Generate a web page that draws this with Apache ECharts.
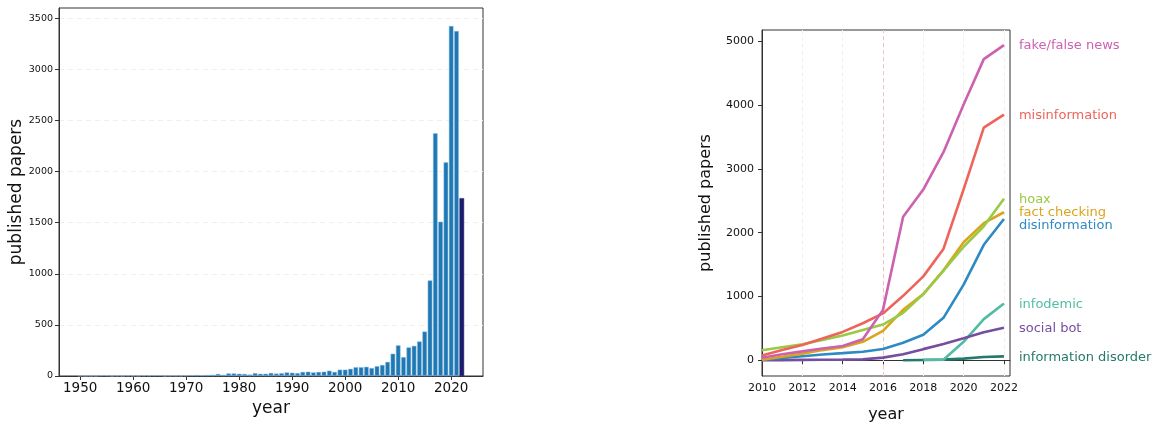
<!DOCTYPE html>
<html>
<head>
<meta charset="utf-8">
<script src="https://cdn.jsdelivr.net/npm/echarts@6/dist/echarts.min.js"></script>
<style>
html,body{margin:0;padding:0;background:#fff;}
#c{width:1159px;height:423px;}
</style>
</head>
<body>
<div id="c"></div>
<script>
// ---- Left chart: published papers per year ----
const barYears = [];
for (let y = 1950; y <= 2022; y++) barYears.push(y);
const barValues = [
  // 1950-1959
  2, 0, 0, 0, 5, 5, 0, 3, 0, 4,
  // 1960-1969
  2, 1, 5, 5, 8, 7, 0, 3, 3, 2,
  // 1970-1979
  5, 8, 10, 8, 10, 12, 20, 12, 25, 25,
  // 1980-1989
  22, 20, 14, 28, 22, 22, 30, 24, 28, 35,
  // 1990-1999
  32, 28, 40, 42, 35, 40, 42, 52, 40, 62,
  // 2000-2009
  62, 70, 86, 86, 90, 78, 96, 108, 138, 218,
  // 2010-2019
  300, 185, 280, 295, 338, 435, 935, 2375, 1510, 2090,
  // 2020-2022
  3425, 3375, 1740
];
const barXTicks = [1950, 1960, 1970, 1980, 1990, 2000, 2010, 2020];
const barYTicks = [0, 500, 1000, 1500, 2000, 2500, 3000, 3500];

// ---- Right chart: papers per term ----
const lineYears = [2010, 2011, 2012, 2013, 2014, 2015, 2016, 2017, 2018, 2019, 2020, 2021, 2022];
const fakeNews        = [40, 95, 140, 185, 225, 330, 790, 2250, 2675, 3262, 4010, 4720, 4940];
const misinformation  = [75, 160, 240, 340, 445, 580, 735, 1010, 1315, 1745, 2680, 3645, 3850];
const hoax            = [157, 205, 251, 320, 390, 475, 560, 743, 1037, 1405, 1780, 2100, 2530];
const factChecking    = [10, 55, 105, 160, 205, 290, 460, 790, 1037, 1410, 1850, 2150, 2320];
const disinformation  = [5, 35, 63, 90, 112, 135, 178, 275, 400, 665, 1185, 1810, 2215];
const infodemic       = [null, null, null, null, null, null, null, null, 8, 8, 290, 645, 890];
const socialBot       = [0, 3, 6, 8, 10, 15, 42, 94, 175, 255, 345, 440, 510];
const infoDisorder    = [null, null, null, null, null, null, null, 0, 5, 10, 26, 52, 62];
const lineYTicks = [0, 1000, 2000, 3000, 4000, 5000];
const lineXTicks = [2010, 2012, 2014, 2016, 2018, 2020, 2022];
const highlightYear = 2016;

const lineSeriesDefs = [
  {name: 'information disorder', data: infoDisorder, color: '#24796C', offset: [1, 1]},
  {name: 'infodemic', data: infodemic, color: '#52BCA3', offset: [1, 1]},
  {name: 'social bot', data: socialBot, color: '#764E9F', offset: [1, 1]},
  {name: 'disinformation', data: disinformation, color: '#2F8AC4', offset: [1, 6.5]},
  {name: 'fact checking', data: factChecking, color: '#DAA51B', offset: [1, 0.5]},
  {name: 'hoax', data: hoax, color: '#99C945', offset: [1, 1]},
  {name: 'misinformation', data: misinformation, color: '#ED645A', offset: [1, 1]},
  {name: 'fake/false news', data: fakeNews, color: '#CC61B0', offset: [1, 1]}
];

const FONT = 'DejaVu Sans';
const plain = v => String(v);
const chart = echarts.init(document.getElementById('c'), null, {renderer: 'canvas'});

const barData = barYears.map((y, i) => {
  const item = {value: [y, barValues[i]]};
  if (i === barYears.length - 1) item.itemStyle = {color: '#1c1c6e', borderColor: '#1c1c6e'};
  return item;
});

const lineSeries = lineSeriesDefs.map((d, k) => ({
  type: 'line',
  name: d.name,
  xAxisIndex: 1,
  yAxisIndex: 1,
  data: lineYears.map((y, i) => [y, d.data[i]]),
  showSymbol: false,
  symbol: 'none',
  connectNulls: false,
  lineStyle: {width: 2.6, color: d.color},
  itemStyle: {color: d.color},
  z: 3 + k,
  animation: false,
  endLabel: {
    show: true,
    formatter: d.name,
    color: d.color,
    fontFamily: FONT,
    fontSize: 13,
    distance: 14,
    offset: d.offset
  }
}));

// highlight line for 2016
lineSeries[0].markLine = {
  silent: true,
  symbol: 'none',
  label: {show: false},
  lineStyle: {color: '#f3c3c3', type: [4, 3], width: 1},
  data: [{xAxis: highlightYear}]
};

const option = {
  animation: false,
  backgroundColor: '#fff',
  textStyle: {fontFamily: FONT},
  grid: [
    {left: 59, top: 8, right: 676, bottom: 47, show: true, borderColor: '#333', borderWidth: 1, backgroundColor: 'transparent', containLabel: false, outerBoundsMode: 'none'},
    {left: 762, top: 30, right: 149, bottom: 47, show: true, borderColor: '#333', borderWidth: 1, backgroundColor: 'transparent', containLabel: false, outerBoundsMode: 'none'}
  ],
  xAxis: [
    {
      type: 'value', gridIndex: 0, min: 1946, max: 2026,
      name: 'year', nameLocation: 'middle', nameGap: 23,
      nameTextStyle: {fontSize: 17, color: '#111', fontFamily: FONT},
      axisLine: {lineStyle: {color: '#333'}},
      axisTick: {show: true, length: 4, lineStyle: {color: '#333'}, customValues: barXTicks},
      axisLabel: {fontSize: 13.5, color: '#111', margin: 5, fontFamily: FONT, customValues: barXTicks, formatter: plain},
      splitLine: {show: false}
    },
    {
      type: 'value', gridIndex: 1, min: 2010, max: 2022.3, interval: 2,
      name: 'year', nameLocation: 'middle', nameGap: 31,
      nameTextStyle: {fontSize: 16, color: '#111', fontFamily: FONT},
      axisLine: {lineStyle: {color: '#333'}},
      axisTick: {show: true, length: 4, lineStyle: {color: '#333'}, customValues: lineXTicks},
      axisLabel: {fontSize: 11, color: '#111', margin: 7, fontFamily: FONT, customValues: lineXTicks, formatter: plain},
      splitLine: {show: true, lineStyle: {color: '#f2eeee', type: [4, 3], width: 1}}
    }
  ],
  yAxis: [
    {
      type: 'value', gridIndex: 0, min: 0, max: 3600, interval: 500,
      name: 'published papers', nameLocation: 'middle', nameGap: 28,
      nameTextStyle: {fontSize: 17, color: '#111', fontFamily: FONT},
      axisLine: {show: true, lineStyle: {color: '#333'}},
      axisTick: {show: true, length: 4, lineStyle: {color: '#333'}, customValues: barYTicks},
      axisLabel: {fontSize: 9.5, color: '#111', margin: 6, fontFamily: FONT, customValues: barYTicks, formatter: plain},
      splitLine: {show: true, lineStyle: {color: '#efefef', type: [5, 4], width: 1}}
    },
    {
      type: 'value', gridIndex: 1, min: -246, max: 5176,
      name: 'published papers', nameLocation: 'middle', nameGap: 48,
      nameTextStyle: {fontSize: 16, color: '#111', fontFamily: FONT},
      axisLine: {show: true, lineStyle: {color: '#333'}},
      axisTick: {show: true, length: 4, lineStyle: {color: '#333'}, customValues: lineYTicks},
      axisLabel: {fontSize: 11, color: '#111', margin: 8, fontFamily: FONT, customValues: lineYTicks, formatter: plain},
      splitLine: {show: false}
    }
  ],
  series: [
    {
      type: 'bar',
      xAxisIndex: 0, yAxisIndex: 0,
      data: barData,
      barWidth: 4.6,
      itemStyle: {color: '#1f77b4', borderColor: '#8fc0e3', borderWidth: 0.5},
      animation: false
    }
  ].concat(lineSeries)
};
chart.setOption(option);
</script>
</body>
</html>
